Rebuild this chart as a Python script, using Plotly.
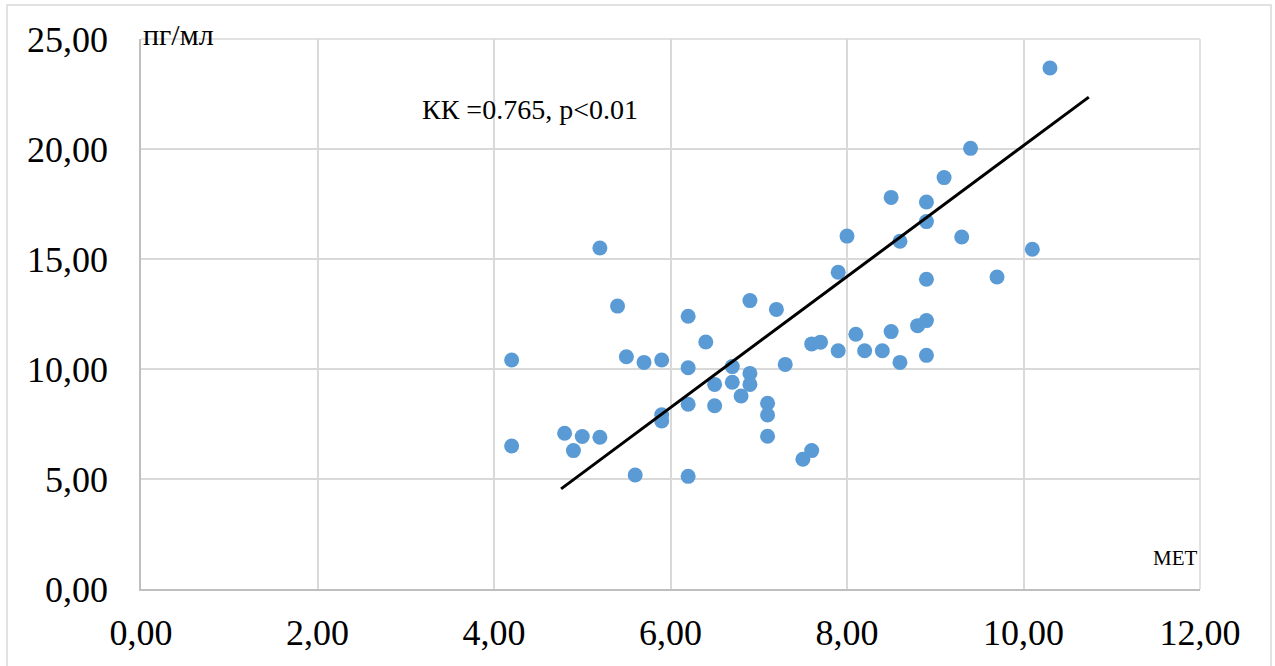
import plotly.graph_objects as go

# MET values (x) and concentration, пг/мл (y)
met = [5.2, 5.4, 4.2, 5.5, 5.7, 5.9, 6.2, 6.2, 6.4, 6.9, 7.2, 6.7, 6.9, 6.5, 6.7,
       6.9, 6.8, 7.3, 5.9, 5.9, 6.2, 6.5, 7.1, 7.1, 7.1, 4.8, 5.0, 5.2, 4.9, 4.2,
       5.6, 6.2, 7.5, 7.6, 7.6, 7.7, 7.9, 8.1, 8.2, 8.4, 8.5, 8.6, 8.8, 8.9, 8.9,
       10.3, 9.4, 9.1, 8.5, 8.9, 8.9, 8.0, 8.6, 9.3, 10.1, 7.9, 8.9, 9.7]
conc = [15.50, 12.86, 10.41, 10.56, 10.30, 10.41, 12.40, 10.06, 11.23, 13.11, 12.71,
        10.11, 9.80, 9.30, 9.40, 9.30, 8.77, 10.21, 7.92, 7.64, 8.40, 8.33, 8.44,
        7.91, 6.94, 7.08, 6.93, 6.90, 6.29, 6.50, 5.18, 5.12, 5.90, 6.29, 11.14,
        11.22, 10.83, 11.58, 10.83, 10.83, 11.70, 10.30, 11.97, 12.20, 10.62,
        23.68, 20.03, 18.70, 17.80, 17.59, 16.70, 16.04, 15.81, 16.00, 15.44,
        14.40, 14.08, 14.18]

# trend line end points
trend_x = [4.76, 10.74]
trend_y = [4.55, 22.36]

x_ticks = [0, 2, 4, 6, 8, 10, 12]
y_ticks = [0, 5, 10, 15, 20, 25]

FONT = "Liberation Serif"

fig = go.Figure()
fig.add_trace(go.Scatter(x=met, y=conc, mode="markers",
                         marker=dict(size=15, color="#5B9BD5", line=dict(width=0)),
                         showlegend=False, hoverinfo="x+y"))
fig.add_trace(go.Scatter(x=trend_x, y=trend_y, mode="lines",
                         line=dict(color="black", width=3),
                         showlegend=False, hoverinfo="skip"))

fig.update_layout(
    width=1275, height=666,
    margin=dict(l=141, r=75, t=39, b=77, autoexpand=False),
    paper_bgcolor="white", plot_bgcolor="white",
    separators=", ",
    font=dict(family=FONT, color="black"),
    xaxis=dict(range=[0, 12], tickvals=x_ticks, tickformat=".2f",
               showgrid=True, gridcolor="#d9d9d9", gridwidth=1.5,
               showline=True, linecolor="#bfbfbf", linewidth=1.5,
               zeroline=False, ticks="", ticklabelstandoff=11, automargin=False,
               tickfont=dict(family=FONT, size=36, color="black")),
    yaxis=dict(range=[0, 25], tickvals=y_ticks, tickformat=".2f",
               showgrid=True, gridcolor="#d9d9d9", gridwidth=1.5,
               showline=True, linecolor="#bfbfbf", linewidth=1.5,
               zeroline=False, ticks="", ticklabelstandoff=24, automargin=False,
               tickfont=dict(family=FONT, size=36, color="black")),
    shapes=[
        dict(type="rect", xref="paper", yref="paper",
             x0=(7 - 141) / 1059, x1=(1271 - 141) / 1059,
             y0=-0.2, y1=(589 - 5) / 550,
             line=dict(color="#d9d9d9", width=1.5), fillcolor="rgba(0,0,0,0)",
             layer="below"),
        dict(type="line", xref="paper", yref="paper", x0=1, x1=1, y0=0, y1=1,
             line=dict(color="#d9d9d9", width=1.5)),
        dict(type="line", xref="paper", yref="paper", x0=0, x1=1, y0=1, y1=1,
             line=dict(color="#d9d9d9", width=1.5)),
    ],
    annotations=[
        dict(text="КК =0.765, p<0.01", x=3.16, y=21.8, xref="x", yref="y",
             xanchor="left", yanchor="middle", showarrow=False,
             font=dict(family=FONT, size=28, color="black")),
        dict(text="пг/мл", x=0, y=25, xref="x", yref="y",
             xanchor="left", yanchor="middle", yshift=5, showarrow=False,
             font=dict(family=FONT, size=30, color="black")),
        dict(text="МЕТ", x=12, y=1.4, xref="x", yref="y",
             xanchor="right", yanchor="middle", showarrow=False,
             font=dict(family=FONT, size=21, color="black")),
    ],
)

fig.write_html("out.html", config={"displayModeBar": False},
               post_script="document.body.style.margin='0';document.body.style.overflow='hidden';")
